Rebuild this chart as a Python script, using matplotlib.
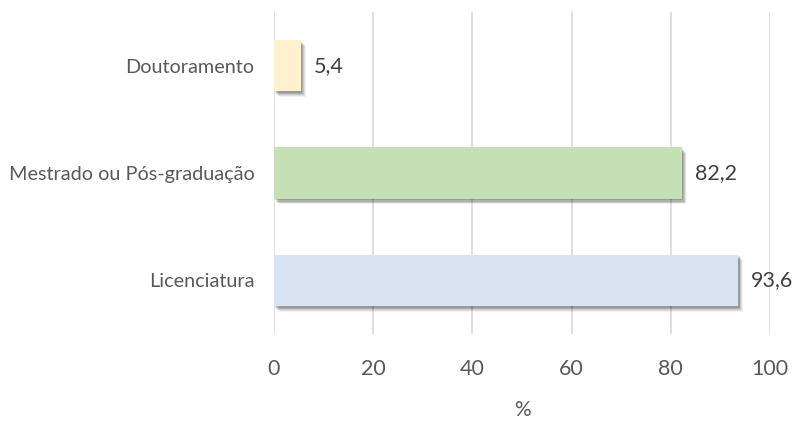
import matplotlib
matplotlib.use("Agg")
import matplotlib.pyplot as plt
import matplotlib.patheffects as pe

categories = ["Licenciatura", "Mestrado ou Pós-graduação", "Doutoramento"]
values = [93.6, 82.2, 5.4]
colors = ["#DAE3F3", "#C5E0B4", "#FFF2CC"]
xticks = [0, 20, 40, 60, 80, 100]

plt.rcParams['font.family'] = ['Lato', 'DejaVu Sans']
text_color = "#595959"

fig = plt.figure(figsize=(7.92, 4.21), dpi=100)
ax = fig.add_axes([274/792, 1-334/421, (770-274)/792, (334-12)/421])

bars = ax.barh(range(len(categories)), values, height=0.48, color=colors, zorder=3)
shadow = []
for dx, dy, a in [(1.0, -1.2, 0.12), (1.6, -2.0, 0.12), (2.2, -2.8, 0.10), (2.8, -3.4, 0.08), (3.4, -4.0, 0.05)]:
    shadow.append(pe.SimplePatchShadow(offset=(dx, dy), shadow_rgbFace="#000000", alpha=a))
for b in bars:
    b.set_path_effects(shadow + [pe.Normal()])

for i, v in enumerate(values):
    ax.text(v + 2.6, i, f"{v:.1f}".replace(".", ","), va="center", ha="left",
            fontsize=15.5, color="#404040", clip_on=False)

ax.set_xlim(0, 100)
ax.set_ylim(-0.5, 2.5)
ax.set_xticks(xticks)
ax.set_xticklabels([str(t) for t in xticks])
ax.set_yticks(range(len(categories)))
ax.set_yticklabels(categories)
ax.tick_params(axis='x', length=0, pad=18, labelsize=15.5, labelcolor=text_color)
ax.tick_params(axis='y', length=0, pad=14, labelsize=14.3, labelcolor=text_color)
ax.grid(axis='x', color="#D9D9D9", linewidth=1.2, zorder=0)
ax.set_axisbelow(True)
for s in ax.spines.values():
    s.set_visible(False)
ax.set_xlabel("%", fontsize=15, color=text_color, labelpad=15)

fig.savefig("out.png", dpi=100)
